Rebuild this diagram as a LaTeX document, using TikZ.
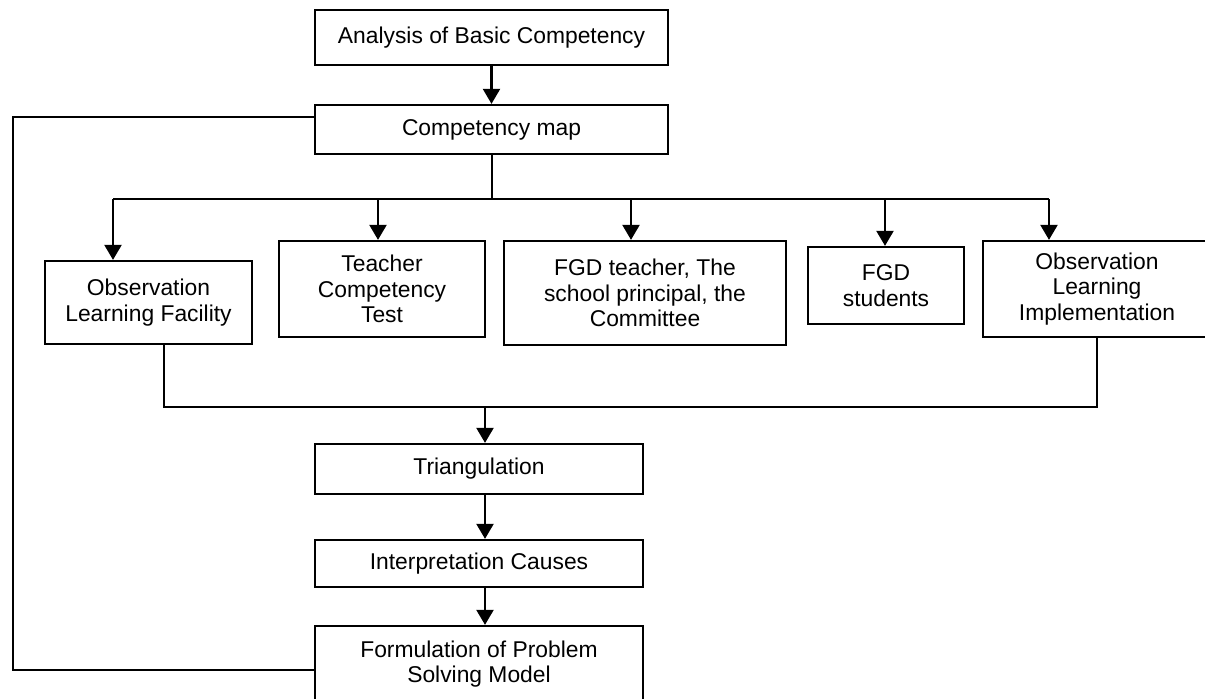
\documentclass[tikz,border=0pt]{standalone}
\usepackage{fontspec}
\setmainfont{Liberation Sans}
\usetikzlibrary{arrows.meta}
\begin{document}
\begin{tikzpicture}[x=0.02cm,y=-0.02cm,
  box/.style={draw=black,line width=1.3pt,inner sep=0pt,align=center,
    font=\fontsize{13}{14.5}\selectfont,fill=white},
  link/.style={draw=black,line width=1.3pt},
  arr/.style={link,-{Triangle[length=0.3cm,width=0.34cm]}}]
\useasboundingbox (0,0) rectangle (1205,699);
\clip (0,0) rectangle (1205,699);
\fill[white] (0,0) rectangle (1205,699);

\node[box,minimum width=7.06cm,minimum height=1.10cm] (b1) at (491.5,37.5) {Analysis of Basic Competency};
\node[box,minimum width=7.06cm,minimum height=0.98cm] (b2) at (491.5,129.5) {Competency map};
\node[box,minimum width=4.14cm,minimum height=1.66cm] (b3) at (148.5,302.5) {Observation\\Learning Facility};
\node[box,minimum width=4.12cm,minimum height=1.92cm] (b4) at (382,289) {Teacher\\Competency\\Test};
\node[box,minimum width=5.64cm,minimum height=2.08cm] (b5) at (645,293) {FGD teacher, The\\school principal, the\\Committee};
\node[box,minimum width=3.12cm,minimum height=1.54cm] (b6) at (886,285.5) {FGD\\students};
\node[box,minimum width=4.56cm,minimum height=1.92cm] (b7) at (1097,289) {Observation\\Learning\\Implementation};
\node[box,minimum width=6.56cm,minimum height=1.00cm] (b8) at (479,469) {Triangulation};
\node[box,minimum width=6.56cm,minimum height=0.94cm] (b9) at (479,563.5) {Interpretation Causes};
\node[box,minimum width=6.56cm,minimum height=1.52cm] (b10) at (479,664) {Formulation of Problem\\Solving Model};

% top arrow
\draw[arr] (b1) -- (b2);

% distribution bus
\coordinate (bus) at (492,199);
\coordinate (t3) at (113,199);
\coordinate (t4) at (378,199);
\coordinate (t5) at (631,199);
\coordinate (t6) at (885,199);
\coordinate (t7) at (1049,199);
\draw[link] (b2.south -| bus) -- (bus);
\draw[link] (t3) -- (t7);
\draw[arr] (t3) -- (t3 |- b3.north);
\draw[arr] (t4) -- (t4 |- b4.north);
\draw[arr] (t5) -- (t5 |- b5.north);
\draw[arr] (t6) -- (t6 |- b6.north);
\draw[arr] (t7) -- (t7 |- b7.north);

% merge
\coordinate (m1) at (164,407);
\coordinate (m2) at (1097,407);
\coordinate (m3) at (485,407);
\draw[link] (b3.south -| m1) -- (m1) -- (m2) -- (b7.south -| m2);
\draw[arr] (m3) -- (m3 |- b8.north);
\draw[arr] (b8.south -| m3) -- (b9.north -| m3);
\draw[arr] (b9.south -| m3) -- (b10.north -| m3);

% feedback loop
\coordinate (f1) at (13,117);
\coordinate (f2) at (13,670);
\draw[link] (b2.west |- f1) -- (f1) -- (f2) -- (b10.west |- f2);
\end{tikzpicture}
\end{document}
